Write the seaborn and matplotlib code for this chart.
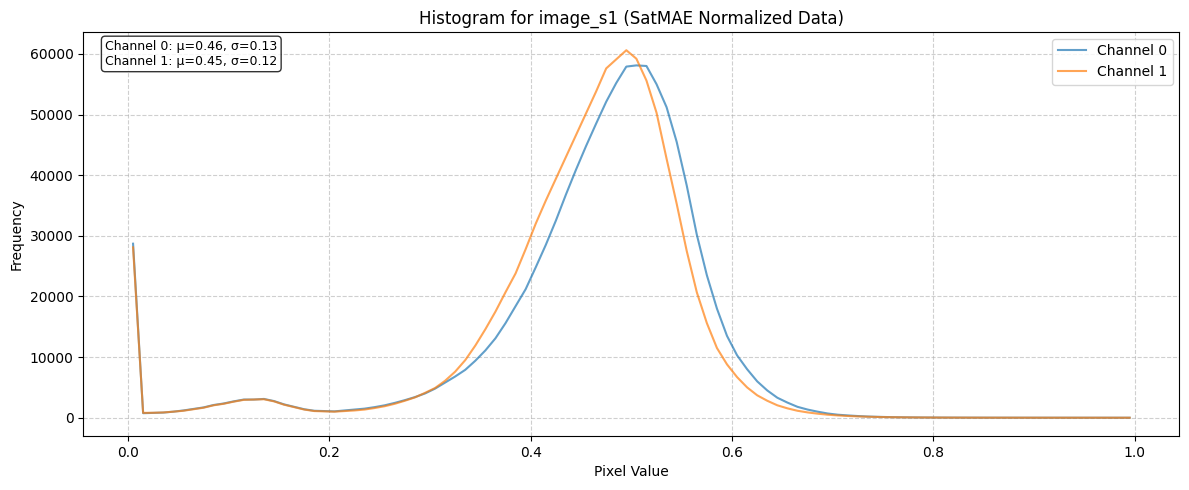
import numpy as np
import pandas as pd
import matplotlib
matplotlib.use("Agg")
import matplotlib.pyplot as plt
import seaborn as sns

# 100 histogram bins over [0, 1], counts
bin_edges = np.linspace(0, 1, 101)
bin_centers = (bin_edges[:-1] + bin_edges[1:]) / 2

channel0 = [
    28700, 750, 800, 850, 1000, 1200, 1450, 1700, 2100, 2350,
    2700, 3000, 3000, 3100, 2750, 2200, 1800, 1400, 1150, 1100,
    1050, 1200, 1350, 1500, 1750, 2050, 2450, 2900, 3400, 4000,
    4800, 5800, 6800, 7900, 9400, 11100, 13100, 15600, 18400, 21200,
    24800, 28500, 32500, 36800, 40900, 44800, 48500, 52100, 55200, 57900,
    58100, 58000, 55000, 51200, 45500, 38300, 30200, 23500, 18000, 13500,
    10300, 8000, 6000, 4500, 3300, 2500, 1800, 1350, 1000, 700,
    500, 380, 280, 200, 150, 110, 85, 65, 50, 40,
    32, 26, 22, 18, 15, 13, 11, 10, 9, 8,
    7, 6, 6, 5, 5, 4, 4, 3, 3, 3,
]
channel1 = [
    28100, 800, 820, 870, 1000, 1150, 1400, 1650, 2050, 2300,
    2650, 2950, 3000, 3050, 2700, 2150, 1750, 1350, 1100, 1050,
    1000, 1100, 1200, 1350, 1600, 1900, 2300, 2800, 3350, 4100,
    4900, 6100, 7600, 9500, 11900, 14600, 17500, 20700, 23800, 27800,
    32000, 35800, 39400, 43000, 46600, 50200, 53800, 57600, 59100, 60600,
    59200, 55600, 50300, 42700, 35300, 27500, 20700, 15600, 11500, 8800,
    6700, 5000, 3700, 2800, 2050, 1550, 1150, 880, 670, 500,
    380, 290, 220, 165, 125, 95, 72, 55, 43, 34,
    27, 22, 18, 15, 13, 11, 10, 9, 8, 7,
    6, 6, 5, 5, 4, 4, 3, 3, 3, 2,
]
stats_text = "Channel 0: μ=0.46, σ=0.13\nChannel 1: μ=0.45, σ=0.12"

df = pd.DataFrame({
    "Pixel Value": np.concatenate([bin_centers, bin_centers]),
    "Frequency": channel0 + channel1,
    "channel": ["Channel 0"] * 100 + ["Channel 1"] * 100,
})

fig, ax = plt.subplots(figsize=(11.89, 4.9), dpi=100)

sns.lineplot(data=df, x="Pixel Value", y="Frequency", hue="channel",
             palette=["#1f77b4", "#ff7f0e"], alpha=0.7, linewidth=1.5, ax=ax)

ax.set_title("Histogram for image_s1 (SatMAE Normalized Data)")
ax.set_xlabel("Pixel Value")
ax.set_ylabel("Frequency")
ax.grid(True, linestyle="--", alpha=0.6)
ax.legend(loc="upper right")

ax.text(0.02, 0.98, stats_text, transform=ax.transAxes, fontsize=9,
        va="top", bbox=dict(boxstyle="round", facecolor="white", alpha=0.8))

# axes box placed to match the reference layout
fig.subplots_adjust(left=0.070, right=0.992, top=0.935, bottom=0.110)
plt.savefig("out.png", dpi=100)
